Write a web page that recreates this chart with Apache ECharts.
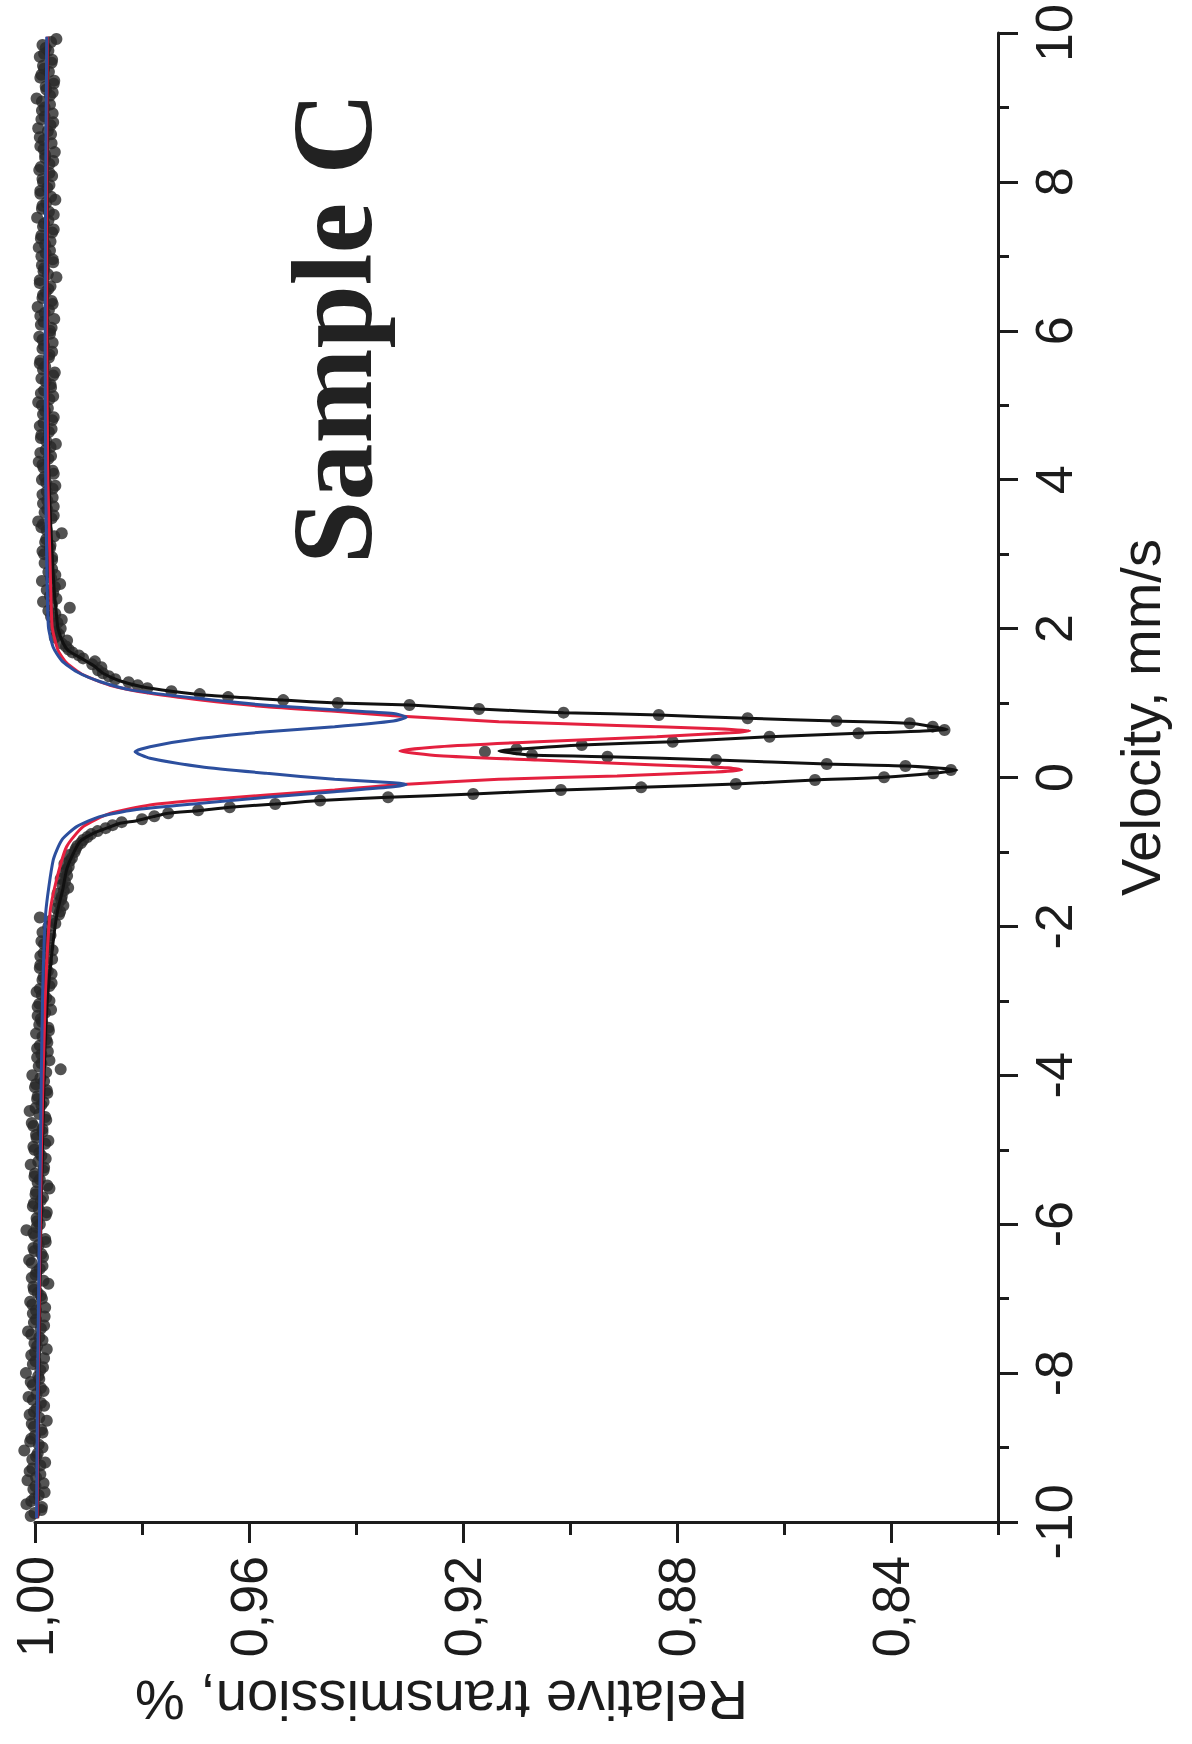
<!DOCTYPE html>
<html><head><meta charset="utf-8">
<script src="https://cdn.jsdelivr.net/npm/echarts@6/dist/echarts.min.js"></script>
<style>html,body{margin:0;padding:0;background:#fff}#chart{width:1192px;height:1744px}</style>
</head><body><div id="chart"></div>
<script>
// ---- axis ticks ----
const transMajorTicks = [1.00, 0.96, 0.92, 0.88, 0.84];
const transMinorTicks = [0.98, 0.94, 0.90, 0.86, 0.82];
const transRange = [0.82, 1.00];
const velocityRange = [-10, 10];
const velocityStep = 2;

// ---- measured points [velocity mm/s, relative transmission] ----
const dotsBaselineLeft = [
[-9.92,1.0008],[-9.84,0.9988],[-9.76,1.0016],[-9.68,1.0001],[-9.60,0.9982],[-9.52,0.9999],[-9.44,1.0014],[-9.36,0.9990],[-9.28,1.0005],[-9.20,0.9981],[-9.12,0.9998],[-9.04,1.0020],[-8.96,0.9993],[-8.88,1.0007],[-8.80,0.9986],[-8.72,1.0002],[-8.64,0.9978],[-8.56,1.0010],[-8.48,0.9997],[-8.40,0.9989],[-8.32,1.0012],[-8.24,0.9984],[-8.16,1.0004],[-8.08,0.9992],[-8.00,1.0017],
[-7.92,0.9985],[-7.84,0.9999],[-7.76,1.0007],[-7.68,0.9978],[-7.60,1.0001],[-7.52,0.9992],[-7.44,1.0013],[-7.36,0.9983],[-7.28,0.9998],[-7.20,1.0004],[-7.12,0.9981],[-7.04,1.0009],[-6.96,0.9989],[-6.88,1.0002],[-6.80,0.9975],[-6.72,1.0006],[-6.64,0.9997],[-6.56,0.9986],[-6.48,1.0011],[-6.40,0.9988],[-6.32,1.0003],[-6.24,0.9980],[-6.16,1.0000],[-6.08,1.0016],[-6.00,0.9991],
[-5.92,0.9997],[-5.84,0.9978],[-5.76,1.0004],[-5.68,0.9989],[-5.60,0.9999],[-5.52,0.9973],[-5.44,0.9995],[-5.36,1.0001],[-5.28,0.9984],[-5.20,1.0008],[-5.12,0.9980],[-5.04,0.9992],[-4.96,1.0003],[-4.88,0.9975],[-4.80,0.9998],[-4.72,0.9986],[-4.64,1.0006],[-4.56,0.9981],[-4.48,1.0010],[-4.40,0.9988],[-4.32,0.9996],[-4.24,0.9977],[-4.16,1.0000],[-4.08,0.9983],[-4.00,1.0005],
[-3.92,0.9952],[-3.84,0.9988],[-3.76,0.9996],[-3.68,0.9976],[-3.60,0.9991],[-3.52,0.9979],[-3.44,0.9998],[-3.36,0.9975],[-3.28,0.9987],[-3.20,0.9995],[-3.12,0.9970],[-3.04,0.9992],[-2.96,0.9979],[-2.88,0.9997],[-2.80,0.9973],[-2.72,0.9986],[-2.64,0.9969],[-2.56,0.9991],[-2.48,0.9977],[-2.40,0.9990],[-2.32,0.9967],[-2.24,0.9983],[-2.16,0.9974],[-2.08,0.9986]
];
const dotsBaselineLeftMid = [
[-9.88,1.0001],[-9.80,0.9987],[-9.72,1.0007],[-9.64,0.9993],[-9.56,1.0003],[-9.48,0.9984],[-9.40,0.9998],[-9.32,1.0010],[-9.24,0.9990],[-9.16,1.0005],[-9.08,0.9995],[-9.00,0.9986],[-8.92,1.0009],[-8.84,1.0000],[-8.76,0.9988],[-8.68,1.0006],[-8.60,0.9992],[-8.52,1.0002],[-8.44,0.9983],[-8.36,1.0004],[-8.28,0.9997],[-8.20,0.9989],[-8.12,1.0008],[-8.04,0.9994],
[-7.96,0.9990],[-7.88,1.0004],[-7.80,0.9983],[-7.72,1.0000],[-7.64,0.9996],[-7.56,0.9986],[-7.48,1.0007],[-7.40,0.9989],[-7.32,1.0002],[-7.24,0.9982],[-7.16,0.9998],[-7.08,1.0005],[-7.00,0.9987],[-6.92,0.9995],[-6.84,1.0003],[-6.76,0.9984],[-6.68,0.9999],[-6.60,0.9991],[-6.52,1.0006],[-6.44,0.9985],[-6.36,1.0001],[-6.28,0.9993],[-6.20,0.9981],[-6.12,1.0003],[-6.04,0.9997],
[-5.96,0.9996],[-5.88,0.9980],[-5.80,0.9993],[-5.72,1.0002],[-5.64,0.9985],[-5.56,0.9998],[-5.48,0.9977],[-5.40,0.9991],[-5.32,1.0000],[-5.24,0.9983],[-5.16,0.9994],[-5.08,0.9988],[-5.00,1.0001],[-4.92,0.9981],[-4.84,0.9997],[-4.76,0.9986],[-4.68,1.0003],[-4.60,0.9979],[-4.52,0.9992],[-4.44,0.9999],[-4.36,0.9984],[-4.28,0.9995],[-4.20,0.9978],[-4.12,0.9998],[-4.04,0.9990],
[-3.96,0.9979],[-3.88,0.9993],[-3.80,0.9973],[-3.72,0.9988],[-3.64,0.9996],[-3.56,0.9977],[-3.48,0.9986],[-3.40,0.9974],[-3.32,0.9992],[-3.24,0.9989],[-3.16,0.9981],[-3.08,0.9995],[-3.00,0.9973],[-2.92,0.9987],[-2.84,0.9991],[-2.76,0.9969],[-2.68,0.9984],[-2.60,0.9976],[-2.52,0.9990],[-2.44,0.9968],[-2.36,0.9984],[-2.28,0.9975],[-2.20,0.9988],[-2.12,0.9971]
];
const dotsShoulderLow = [
[-2.00,0.9975],[-1.96,0.9962],[-1.92,0.9970],[-1.88,0.9991],[-1.84,0.9955],[-1.80,0.9953],[-1.76,0.9960],[-1.72,0.9947],[-1.68,0.9956],[-1.64,0.9951],[-1.60,0.9950],[-1.56,0.9958],[-1.52,0.9946],[-1.48,0.9938],[-1.44,0.9949],[-1.40,0.9944],[-1.36,0.9952],[-1.32,0.9940],[-1.28,0.9946],[-1.24,0.9941],[-1.20,0.9937],[-1.16,0.9945],[-1.12,0.9935],[-1.08,0.9931],[-1.04,0.9936],[-1.00,0.9926],[-0.96,0.9924],[-0.92,0.9921],[-0.88,0.9914],[-0.84,0.9910],[-0.80,0.9902],[-0.76,0.9895],[-0.72,0.9883],[-0.68,0.9868],[-0.64,0.9855],[-0.60,0.9838],[-0.56,0.9800],[-0.52,0.9777],[-0.48,0.9751],[-0.44,0.9695],[-0.40,0.9636],[-0.356,0.9551],[-0.31,0.9467]
];
const dotsPeaks = [
[-0.266,0.9340],[-0.222,0.9181],[-0.168,0.9017],[-0.132,0.8867],[-0.087,0.8690],[-0.034,0.8542],[0.003,0.8413],[0.056,0.8321],[0.101,0.8288],[0.154,0.8373],[0.181,0.8520],[0.235,0.8727],[0.280,0.8930],[0.302,0.9071],[0.347,0.9159],[0.379,0.9100],[0.437,0.8978],[0.481,0.8808],[0.548,0.8627],[0.593,0.8461],[0.638,0.8300],[0.683,0.8322],[0.728,0.8365],[0.759,0.8502],[0.795,0.8668],[0.839,0.8834],[0.871,0.9012],[0.920,0.9170],[0.974,0.9300]
];
const dotsShoulderHigh = [
[1.00,0.9434],[1.04,0.9536],[1.08,0.9639],[1.12,0.9692],[1.16,0.9745],[1.20,0.9790],[1.24,0.9808],[1.28,0.9825],[1.32,0.9850],[1.36,0.9862],[1.40,0.9873],[1.44,0.9882],[1.48,0.9876],[1.52,0.9893],[1.56,0.9888],[1.60,0.9910],[1.64,0.9918],[1.68,0.9930],[1.72,0.9937],[1.76,0.9942],[1.80,0.9950],[1.84,0.9940],[1.88,0.9963],[1.92,0.9955],[1.96,0.9960],[2.00,0.9952],[2.04,0.9966],[2.08,0.9958],[2.12,0.9950],[2.16,0.9970],[2.20,0.9962],[2.24,0.9975],[2.28,0.9935],[2.32,0.9968],[2.36,0.9985],[2.40,0.9960],[2.44,0.9972],[2.48,0.9966],[2.52,0.9978],[2.56,0.9963],[2.60,0.9953],[2.64,0.9987],[2.68,0.9970],[2.72,0.9962],[2.76,0.9975],[2.80,0.9968]
];
const dotsBaselineRight = [
[2.88,0.9982],[2.96,0.9968],[3.04,0.9986],[3.12,0.9971],[3.20,0.9979],[3.28,0.9950],[3.36,0.9988],[3.44,0.9994],[3.52,0.9965],[3.60,0.9977],[3.68,0.9985],[3.76,0.9967],[3.84,0.9978],[3.92,0.9962],
[4.00,0.9987],[4.08,0.9965],[4.16,0.9984],[4.24,0.9993],[4.32,0.9970],[4.40,0.9980],[4.48,0.9961],[4.56,0.9989],[4.64,0.9974],[4.72,0.9991],[4.80,0.9968],[4.88,0.9985],[4.96,0.9976],[5.04,0.9994],[5.12,0.9966],[5.20,0.9983],[5.28,0.9971],[5.36,0.9988],[5.44,0.9963],[5.52,0.9981],[5.60,0.9990],[5.68,0.9973],[5.76,0.9986],[5.84,0.9967],[5.92,0.9992],
[6.00,0.9972],[6.08,0.9989],[6.16,0.9964],[6.24,0.9982],[6.32,0.9995],[6.40,0.9969],[6.48,0.9985],[6.56,0.9975],[6.64,0.9991],[6.72,0.9960],[6.80,0.9984],[6.88,0.9987],[6.96,0.9967],[7.04,0.9980],[7.12,0.9993],[7.20,0.9971],[7.28,0.9988],[7.36,0.9965],[7.44,0.9983],[7.52,0.9996],[7.60,0.9974],[7.68,0.9986],[7.76,0.9962],[7.84,0.9990],[7.92,0.9977],
[8.00,0.9985],[8.08,0.9968],[8.16,0.9992],[8.24,0.9973],[8.32,0.9981],[8.40,0.9963],[8.48,0.9990],[8.56,0.9984],[8.64,0.9970],[8.72,0.9994],[8.80,0.9966],[8.88,0.9982],[8.96,0.9987],[9.04,0.9972],[9.12,0.9997],[9.20,0.9967],[9.28,0.9980],[9.36,0.9964],[9.44,0.9988],[9.52,0.9983],[9.60,0.9969],[9.68,0.9991],[9.76,0.9975],[9.84,0.9986],[9.92,0.9960]
];
const dotsBaselineRightMid = [
[2.92,0.9968],[3.00,0.9983],[3.08,0.9972],[3.16,0.9981],[3.24,0.9964],[3.32,0.9978],[3.40,0.9985],[3.48,0.9969],[3.56,0.9982],[3.64,0.9965],[3.72,0.9977],[3.80,0.9986],[3.88,0.9967],[3.96,0.9979],
[4.04,0.9982],[4.12,0.9967],[4.20,0.9986],[4.28,0.9975],[4.36,0.9990],[4.44,0.9971],[4.52,0.9979],[4.60,0.9988],[4.68,0.9969],[4.76,0.9984],[4.84,0.9965],[4.92,0.9981],[5.00,0.9987],[5.08,0.9973],[5.16,0.9989],[5.24,0.9970],[5.32,0.9980],[5.40,0.9966],[5.48,0.9985],[5.56,0.9991],[5.64,0.9974],[5.72,0.9968],[5.80,0.9983],[5.88,0.9986],[5.96,0.9972],
[6.04,0.9969],[6.12,0.9984],[6.20,0.9990],[6.28,0.9974],[6.36,0.9967],[6.44,0.9986],[6.52,0.9980],[6.60,0.9971],[6.68,0.9991],[6.76,0.9976],[6.84,0.9983],[6.92,0.9966],[7.00,0.9988],[7.08,0.9972],[7.16,0.9981],[7.24,0.9989],[7.32,0.9968],[7.40,0.9985],[7.48,0.9975],[7.56,0.9965],[7.64,0.9987],[7.72,0.9979],[7.80,0.9970],[7.88,0.9990],[7.96,0.9973],
[8.04,0.9986],[8.12,0.9973],[8.20,0.9989],[8.28,0.9966],[8.36,0.9981],[8.44,0.9984],[8.52,0.9969],[8.60,0.9991],[8.68,0.9976],[8.76,0.9971],[8.84,0.9988],[8.92,0.9967],[9.00,0.9982],[9.08,0.9987],[9.16,0.9972],[9.24,0.9979],[9.32,0.9965],[9.40,0.9990],[9.48,0.9974],[9.56,0.9985],[9.64,0.9968],[9.72,0.9983],[9.80,0.9980],[9.88,0.9970]
];

// ---- fitted curves [velocity, transmission] ----
const fitTotal = [[9.95,0.9976],[8,0.9977],[6,0.9977],[4,0.9974],[3,0.9968],[2.5,0.9964],[2.2,0.9960],[2.0,0.9957],[1.8,0.9947],[1.7,0.9937],[1.6,0.9913],[1.5,0.9890],[1.4,0.9873],[1.3,0.9842],[1.22,0.9800],[1.16,0.9745],[1.10,0.9670],[1.04,0.9536],[1.00,0.9434],[0.974,0.9300],[0.92,0.9170],[0.871,0.9012],[0.839,0.8834],[0.795,0.8668],[0.759,0.8502],[0.728,0.8365],[0.683,0.8322],[0.647,0.8295],[0.593,0.8461],[0.548,0.8627],[0.481,0.8808],[0.437,0.8978],[0.379,0.9100],[0.356,0.9133],[0.302,0.9071],[0.280,0.8930],[0.235,0.8727],[0.181,0.8520],[0.154,0.8373],[0.101,0.8277],[0.056,0.8321],[0.003,0.8413],[-0.034,0.8542],[-0.087,0.8690],[-0.132,0.8867],[-0.168,0.9017],[-0.222,0.9181],[-0.266,0.9340],[-0.31,0.9467],[-0.356,0.9551],[-0.40,0.9636],[-0.446,0.9695],[-0.481,0.9751],[-0.526,0.9779],[-0.58,0.9810],[-0.615,0.9841],[-0.68,0.9866],[-0.75,0.9891],[-0.86,0.9916],[-1.06,0.9931],[-1.24,0.9941],[-1.5,0.9948],[-1.8,0.9958],[-2.2,0.9966],[-3,0.9977],[-4,0.9983],[-6,0.9989],[-8,0.9993],[-9.95,0.9995]];
const fitRed = [[9.95,0.9977],[8,0.9978],[6,0.9978],[4,0.9976],[2.92,0.9972],[2.03,0.9968],[1.71,0.9957],[1.54,0.9941],[1.38,0.9910],[1.24,0.9860],[1.13,0.9785],[1.04,0.9690],[0.95,0.9567],[0.89,0.9440],[0.83,0.9330],[0.75,0.9133],[0.70,0.8912],[0.654,0.8727],[0.629,0.8664],[0.60,0.8700],[0.548,0.8838],[0.481,0.9060],[0.414,0.9244],[0.356,0.9318],[0.293,0.9244],[0.235,0.9060],[0.168,0.8838],[0.13,0.8705],[0.101,0.8679],[0.074,0.8727],[0.020,0.8912],[-0.024,0.9133],[-0.10,0.9330],[-0.168,0.9440],[-0.235,0.9567],[-0.302,0.9690],[-0.369,0.9785],[-0.481,0.9860],[-0.66,0.9910],[-0.93,0.9941],[-1.38,0.9960],[-1.82,0.9972],[-3,0.9981],[-5,0.9988],[-8,0.9994],[-9.95,0.9996]];
const fitBlue = [[9.95,0.9978],[8,0.9980],[6,0.9981],[4,0.9980],[2.92,0.9978],[2.03,0.9975],[1.75,0.9966],[1.57,0.9950],[1.42,0.9922],[1.29,0.9879],[1.17,0.9816],[1.06,0.9692],[0.97,0.9567],[0.91,0.9440],[0.86,0.9330],[0.81,0.9306],[0.76,0.9330],[0.683,0.9440],[0.615,0.9567],[0.526,0.9690],[0.414,0.9785],[0.347,0.9813],[0.258,0.9785],[0.145,0.9690],[0.056,0.9567],[-0.024,0.9440],[-0.070,0.9330],[-0.095,0.9306],[-0.125,0.9330],[-0.19,0.9440],[-0.266,0.9567],[-0.347,0.9690],[-0.437,0.9816],[-0.526,0.9879],[-0.66,0.9922],[-0.84,0.9950],[-1.11,0.9966],[-1.82,0.9980],[-3,0.9986],[-5,0.9990],[-8,0.9995],[-9.95,0.9997]];

const dots = [].concat(dotsBaselineLeft, dotsBaselineLeftMid, dotsShoulderLow, dotsPeaks,
  dotsShoulderHigh, dotsBaselineRight, dotsBaselineRightMid);

const ink = '#1c1c1c';
const sans = '"Liberation Sans", Arial, Helvetica, sans-serif';
const tickStyle = {color: ink, width: 3};

const chart = echarts.init(document.getElementById('chart'), null, {renderer: 'svg'});
chart.setOption({
  animation: false,
  backgroundColor: '#ffffff',
  grid: {left: 35, right: 194, top: 33, bottom: 222, containLabel: false, outerBoundsMode: 'none'},
  xAxis: [{
    type: 'value', position: 'bottom', inverse: true, min: transRange[0], max: transRange[1],
    axisLine: {show: true, onZero: false, lineStyle: tickStyle},
    axisTick: {show: true, customValues: transMajorTicks, length: 21, lineStyle: tickStyle},
    axisLabel: {show: true, customValues: transMajorTicks, rotate: 90, margin: 34,
      formatter: v => v.toFixed(2).replace('.', ','), fontSize: 52, fontFamily: sans, color: ink},
    splitLine: {show: false},
    name: 'Relative transmission, %', nameLocation: 'middle', nameRotate: 180, nameGap: 150,
    nameMoveOverlap: false,
    nameTextStyle: {fontSize: 56, fontFamily: sans, color: ink, padding: [0, 0, 0, 150]}
  }, {
    type: 'value', position: 'bottom', inverse: true, min: transRange[0], max: transRange[1],
    axisLine: {show: false, onZero: false},
    axisTick: {show: true, customValues: transMinorTicks, length: 13, lineStyle: tickStyle},
    axisLabel: {show: false},
    splitLine: {show: false}
  }],
  yAxis: {
    type: 'value', position: 'right', min: velocityRange[0], max: velocityRange[1], interval: velocityStep,
    axisLine: {show: true, onZero: false, lineStyle: tickStyle},
    axisTick: {show: true, length: 20, lineStyle: tickStyle},
    minorTick: {show: true, splitNumber: 2, length: 11, lineStyle: tickStyle},
    axisLabel: {rotate: 90, margin: 30, fontSize: 52, fontFamily: sans, color: ink},
    splitLine: {show: false}, minorSplitLine: {show: false},
    name: 'Velocity, mm/s', nameLocation: 'middle', nameRotate: 90, nameGap: 114,
    nameMoveOverlap: false,
    nameTextStyle: {fontSize: 56, fontFamily: sans, color: ink, padding: [0, 0, 0, 120]}
  },
  graphic: [{
    type: 'text', x: 332, y: 328, rotation: Math.PI / 2,
    style: {text: 'Sample C', font: 'bold 114px "Liberation Serif", "Times New Roman", serif',
      fill: '#222', align: 'center', verticalAlign: 'middle'}
  }],
  series: [
    {type: 'scatter', name: 'Experiment', data: dots, encode: {x: 1, y: 0}, symbol: 'circle', symbolSize: 12,
      itemStyle: {color: '#282828'}, clip: false, z: 2},
    {type: 'line', name: 'Fit', data: fitTotal, encode: {x: 1, y: 0}, showSymbol: false, smooth: 0.2,
      lineStyle: {color: '#111111', width: 3}, clip: false, z: 3},
    {type: 'line', name: 'Doublet 1', data: fitRed, encode: {x: 1, y: 0}, showSymbol: false, smooth: 0.2,
      lineStyle: {color: '#e4203f', width: 3}, clip: false, z: 4},
    {type: 'line', name: 'Doublet 2', data: fitBlue, encode: {x: 1, y: 0}, showSymbol: false, smooth: 0.2,
      lineStyle: {color: '#2c4f9e', width: 3}, clip: false, z: 5}
  ]
});
</script>
</body></html>
